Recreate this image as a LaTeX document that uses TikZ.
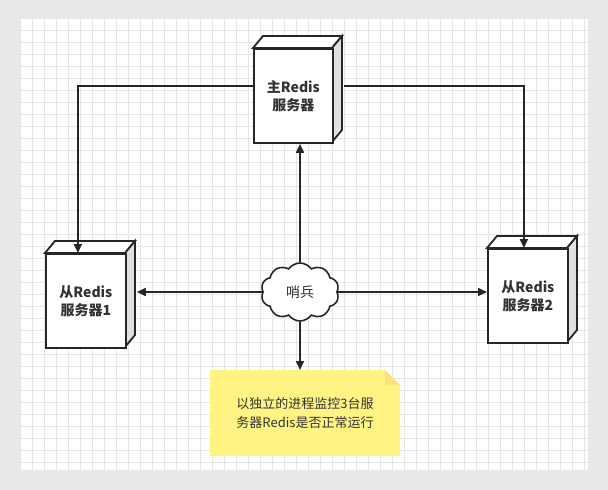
\documentclass[tikz,border=0pt]{standalone}
\usepackage{fontspec}
\setmainfont{Noto Sans CJK SC}
\usetikzlibrary{shapes.symbols,arrows.meta}
\begin{document}
\begin{tikzpicture}[x=1pt,y=-1pt,
  box/.style={draw=black!85,line width=1.8pt,fill=white},
  side/.style={draw=black!85,line width=1.8pt,fill=black!12},
  lbl/.style={font=\bfseries\fontsize{14}{18}\selectfont,align=center,text=black!80},
  con/.style={draw=black!85,line width=1.7pt,-{Triangle[length=9pt,width=8pt]}}]
\fill[black!9] (0,0) rectangle (608,490);
\fill[white] (20,18) rectangle (588,470);
\foreach \i in {0,...,47} {\draw[black!10,line width=0.5pt] (20+12*\i,18) -- (20+12*\i,470);}
\foreach \j in {0,...,37} {\draw[black!10,line width=0.5pt] (20,18+12*\j) -- (588,18+12*\j);}
\useasboundingbox (0,0) rectangle (608,490);
\newcommand\rbox[5]{%
  \fill[white,draw=black!85,line width=1.8pt] (#1,#2) -- ++(10,-12) -- (#3+10,#2-12) -- (#3,#2) -- cycle;
  \filldraw[side] (#3,#2) -- (#3+10,#2-12) -- (#3+10,#4-12) -- (#3,#4) -- cycle;
  \node[box,minimum width=#3-#1,minimum height=#4-#2,anchor=north west,inner sep=0pt] (#5) at (#1,#2) {};}
\rbox{253}{48}{332}{142}{m}
\rbox{45}{253}{125}{347}{s1}
\rbox{487}{248}{567}{342}{s2}
\node[lbl] at (m.center) {主Redis\\服务器};
\node[lbl] at (s1.center) {从Redis\\服务器1};
\node[lbl] at (s2.center) {从Redis\\服务器2};
\node[cloud,cloud puffs=10,cloud puff arc=110,aspect=1.4,draw=black!85,line width=1.6pt,fill=white,minimum width=78pt,minimum height=58pt,inner sep=0pt,font=\fontsize{14}{16}\selectfont,text=black!80] (c) at (300,292) {哨兵};
\coordinate (nt) at (300,370);
\fill[yellow!45!white!95!orange] (210,370) -- (385,370) -- (400,385) -- (400,456) -- (210,456) -- cycle;
\fill[yellow!60!orange!50!white] (385,370) -- (400,385) -- (385,385) -- cycle;
\node[font=\fontsize{13}{19}\selectfont,align=center,text=black!80] (n) at (305,413) {以独立的进程监控3台服\\务器Redis是否正常运行};
\draw[con] (m.west |- 0,86) -| ([xshift=-8pt]s1.north);
\draw[con] ([xshift=10pt]m.east |- 0,86) -| ([xshift=-4pt]s2.north);
\draw[con] (c.north) -- (c.north |- m.south);
\draw[con] (c.west) -- ([xshift=10pt]s1.east |- c.west);
\draw[con] (c.east) -- (s2.west |- c.east);
\draw[con] (c.south) -- (nt);
\end{tikzpicture}
\end{document}
